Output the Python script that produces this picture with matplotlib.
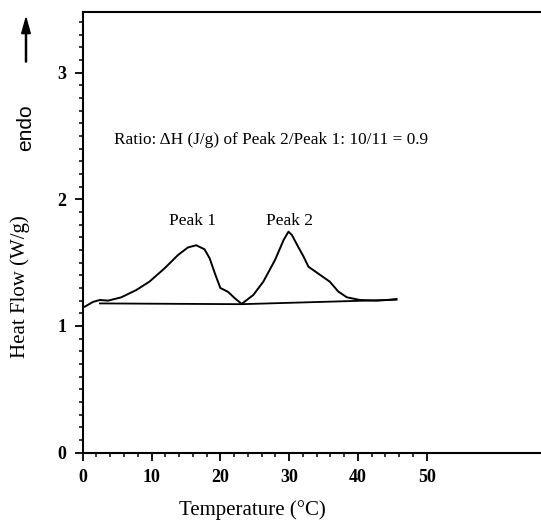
import numpy as np
import matplotlib
matplotlib.use('Agg')
import matplotlib.pyplot as plt

# DSC trace
temp = [0.0, 0.3, 1.5, 2.5, 3.7, 5.6, 7.8, 9.7, 11.9, 13.85, 15.3, 16.5, 17.7,
        18.45, 19.2, 20.0, 21.1, 22.1, 23.1, 24.8, 26.25, 27.95, 29.2, 29.9,
        30.4, 31.3, 32.1, 32.8, 34.5, 35.9, 37.15, 38.4, 40.3, 42.7, 44.2, 45.6]
heat_flow = [1.15, 1.152, 1.19, 1.205, 1.20, 1.226, 1.284, 1.35, 1.455, 1.56,
             1.62, 1.637, 1.605, 1.534, 1.416, 1.30, 1.27, 1.219, 1.174, 1.245,
             1.35, 1.521, 1.679, 1.744, 1.718, 1.626, 1.547, 1.468, 1.403, 1.35,
             1.271, 1.226, 1.205, 1.20, 1.205, 1.213]
base_temp = [2.5, 23.1, 45.6]
base_flow = [1.178, 1.172, 1.207]

x_major = [0, 10, 20, 30, 40, 50]
y_major = [0, 1, 2, 3]

SERIF = ['Liberation Serif', 'DejaVu Serif']

W, H = 541, 521
fig = plt.figure(figsize=(W / 100, H / 100), dpi=100)
fig.patch.set_facecolor('white')

# axes box in pixel terms: origin (82.7, 452.7), top 11.7, right edge of image
left, bottom, top = 82.7, 452.7, 11.7
ax = fig.add_axes([left / W, (H - bottom) / H, (W - left) / W, (bottom - top) / H])
ax.set_xlim(0, 66.6)
ax.set_ylim(0, 3.48)

ax.plot(temp, heat_flow, color='black', lw=1.4)
ax.plot(base_temp, base_flow, color='black', lw=1.3)

ax.spines['right'].set_visible(False)
for s in ['left', 'bottom', 'top']:
    ax.spines[s].set_linewidth(1.5)

ax.set_xticks(x_major)
ax.set_xticks(np.arange(0, 51, 2), minor=True)
ax.set_yticks(y_major)
ax.set_yticks(np.arange(0, 3.45, 0.1), minor=True)
ax.tick_params(axis='both', which='major', direction='out', length=6, width=1.3,
               labelsize=13, pad=6)
ax.tick_params(axis='both', which='minor', direction='out', length=3, width=1.1)
for lab in ax.get_xticklabels() + ax.get_yticklabels():
    lab.set_family(SERIF)
    lab.set_fontweight('bold')

# text annotations
ax.text(4.6, 2.47, 'Ratio: \u0394H (J/g) of Peak 2/Peak 1: 10/11 = 0.9',
        family=SERIF, fontsize=12.4, va='center', ha='left')
ax.text(16.0, 1.83, 'Peak 1', family=SERIF, fontsize=12.5, ha='center', va='center')
ax.text(30.0, 1.83, 'Peak 2', family=SERIF, fontsize=12.5, ha='center', va='center')

fig.text(252 / W, 1 - 510 / H, 'Temperature (\u00b0C)', family=SERIF, fontsize=15,
         ha='center', va='center')
fig.text(20 / W, 1 - 287 / H, 'Heat Flow (W/g)', family=SERIF, fontsize=15,
         rotation=90, ha='center', va='center')
fig.text(26 / W, 1 - 128 / H, 'endo', family=['Liberation Sans', 'DejaVu Sans'],
         fontsize=15, rotation=90, ha='center', va='center')
fig.patches.append(matplotlib.patches.FancyArrow(
    26 / W, 1 - 62 / H, 0, 44 / H, width=0.002, head_width=0.016,
    head_length=0.03, length_includes_head=True, color='black',
    transform=fig.transFigure, figure=fig))

fig.savefig('out.png', dpi=100, facecolor='white')
